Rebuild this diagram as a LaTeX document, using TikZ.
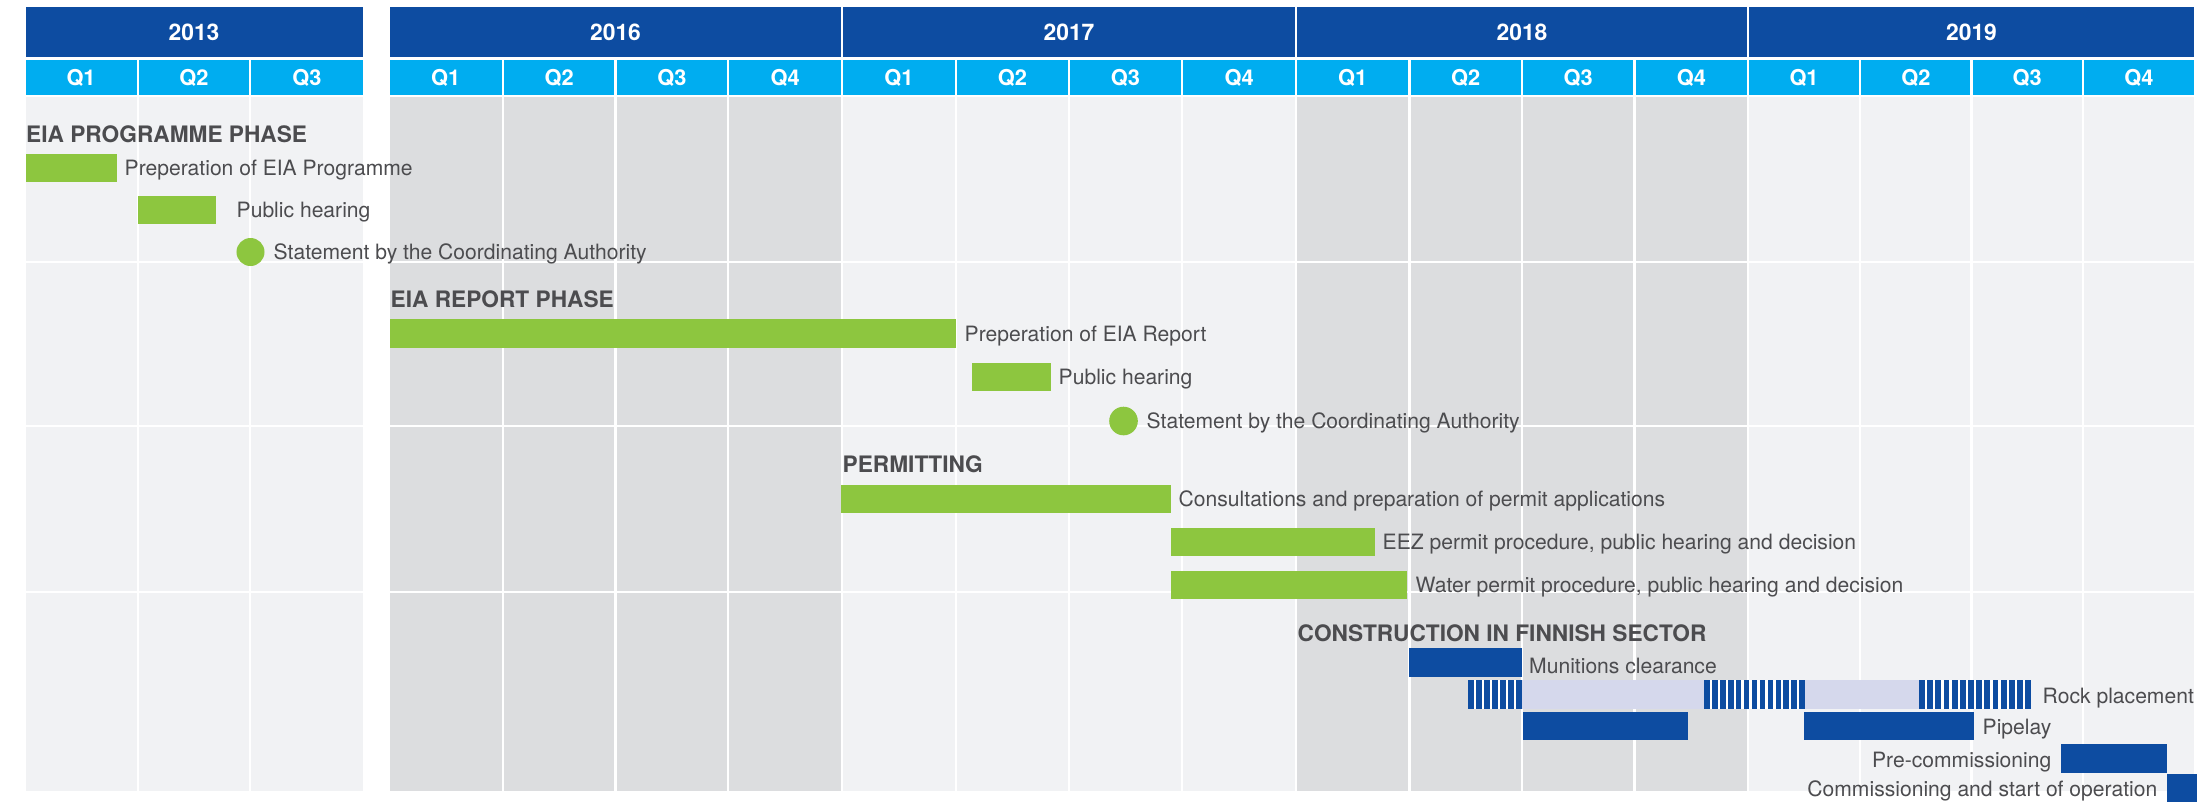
\documentclass[tikz,border=0pt]{standalone}
\usepackage{fontspec}
\setmainfont{TeX Gyre Heros}
\definecolor{YearClr}{rgb}{0.05,0.30,0.63}
\definecolor{QuarterClr}{rgb}{0,0.68,0.94}
\definecolor{LightClr}{rgb}{0.945,0.949,0.957}
\definecolor{DarkClr}{rgb}{0.863,0.867,0.875}
\definecolor{GreenClr}{rgb}{0.553,0.776,0.247}
\definecolor{BarClr}{rgb}{0.05,0.30,0.63}
\definecolor{RockClr}{rgb}{0.835,0.847,0.925}
\definecolor{TextClr}{rgb}{0.30,0.30,0.31}

\begin{document}
\begin{tikzpicture}[x=0.01cm,y=-0.01cm,
  yearhead/.style={text=white,font=\fontsize{6.5}{8}\selectfont\bfseries},
  qhead/.style={text=white,font=\fontsize{6.2}{8}\selectfont\bfseries},
  phase/.style={anchor=base west,inner sep=0pt,text=TextClr,font=\fontsize{6.45}{8}\selectfont\bfseries},
  lbl/.style={anchor=base west,inner sep=0pt,text=TextClr,font=\fontsize{6.0}{7}\selectfont},
  lblleft/.style={lbl,anchor=base east},
  greenbar/.style={fill=GreenClr},
  bluebar/.style={fill=BarClr}]
\useasboundingbox[fill=white] (0,0) rectangle (2207,802);

% years, quarters and the body cells
\foreach \yr/\xa/\xb/\nq/\cell in {2013/25.5/362.5/3/LightClr,2016/390/841/4/DarkClr,2017/843/1295/4/LightClr,2018/1297/1747/4/DarkClr,2019/1749/2194/4/LightClr}{
  \fill[YearClr] (\xa,7) rectangle (\xb,57);
  \node[yearhead] (y\yr) at ({(\xa+\xb)/2},32.5) {\yr};
  \pgfmathsetmacro\qw{(\xb-\xa)/\nq}
  \foreach \q in {1,...,\nq}{
    \pgfmathsetmacro\qa{\xa+(\q-1)*\qw+(\q>1)*1.2}
    \pgfmathsetmacro\qb{\xa+\q*\qw-(\q<\nq)*1.2}
    \fill[QuarterClr] (\qa,60) rectangle (\qb,95);
    \node[qhead] (q\yr-\q) at ({(\qa+\qb)/2},77.5) {Q\q};
    \foreach \ta/\tb in {97/260.5,262.5/424.5,426.5/591,593/791}
      \fill[\cell] (\qa,\ta) rectangle (\qb,\tb);
  }
}

\node[phase] (eiaprog) at (25.5,142) {EIA PROGRAMME PHASE};
\fill[greenbar] (25.5,154) rectangle (117,182);
\node[lbl] (prepprog) at (124,175.4) {Preperation of EIA Programme};
\fill[greenbar] (138,196) rectangle (216,224);
\node[lbl] (hearprog) at (236,217.4) {Public hearing};
\fill[greenbar] (250.5,252) circle[radius=0.14cm];
\node[lbl] (stateprog) at (273,259.4) {Statement by the Coordinating Authority};

\node[phase] (eiarep) at (390,307) {EIA REPORT PHASE};
\fill[greenbar] (390,319) rectangle (956,348);
\node[lbl] (preprep) at (964,341) {Preperation of EIA Report};
\fill[greenbar] (971.5,362.5) rectangle (1050.5,391);
\node[lbl] (hearrep) at (1058,384.3) {Public hearing};
\fill[greenbar] (1123.5,421) circle[radius=0.143cm];
\node[lbl] (staterep) at (1146,428.4) {Statement by the Coordinating Authority};

\node[phase] (permit) at (842,472.5) {PERMITTING};
\fill[greenbar] (841,485) rectangle (1171,513);
\node[lbl] (consult) at (1178,506.4) {Consultations and preparation of permit applications};
\fill[greenbar] (1171,528) rectangle (1374.5,555.5);
\node[lbl] (eez) at (1382,549.2) {EEZ permit procedure, public hearing and decision};
\fill[greenbar] (1171,570.5) rectangle (1407,599);
\node[lbl] (water) at (1415,592.2) {Water permit procedure, public hearing and decision};

\node[phase] (constr) at (1297,641.5) {CONSTRUCTION IN FINNISH SECTOR};
\fill[bluebar] (1408.7,648) rectangle (1521.5,677);
\node[lbl] (munition) at (1528.5,673.4) {Munitions clearance};

% rock placement: light band with striped parts
\fill[RockClr] (1468,680) rectangle (2031,709);
\foreach \xa/\xb/\nq in {1468/1521.5/7,1704/1805/13,1919/2031/14}{
  \fill[BarClr] (\xa,680) rectangle (\xb,709);
  \pgfmathsetmacro\pd{(\xb-\xa+2.3)/\nq}
  \pgfmathtruncatemacro\nm{\nq-1}
  \foreach \i in {1,...,\nm}
    \draw[white,line width=0.65pt] ({\xa+\i*\pd-1.15},680) -- ++(0,29);
}
\node[lbl] (rock) at (2042,703.4) {Rock placement};

\fill[bluebar] (1523,712) rectangle (1688,740);
\fill[bluebar] (1804,712) rectangle (1974,740);
\node[lbl] (pipelay) at (1982,734.9) {Pipelay};
\fill[bluebar] (2061,744) rectangle (2167,772.5);
\node[lblleft] (precomm) at (2052,767.4) {Pre-commissioning};
\fill[bluebar] (2167,774) rectangle (2197,802);
\node[lblleft] (comm) at (2158,796.4) {Commissioning and start of operation};

\end{tikzpicture}
\end{document}
